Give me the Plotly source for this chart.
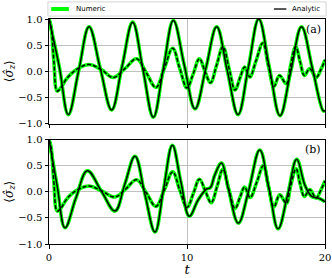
import plotly.graph_objects as go
from plotly.subplots import make_subplots

# ---- data ----
t_a_solid = [0, 0.75, 1.40, 2.15, 2.90, 3.72, 4.54, 5.30, 6.06, 6.81, 7.56, 8.28, 9.01, 9.80,
             10.58, 11.37, 12.15, 12.92, 13.70, 14.45, 15.20, 15.97, 16.74, 17.52, 18.30,
             19.09, 19.88, 20.0]
v_a_solid = [1.0, 0.08, -0.83, 0.01, 0.85, 0.05, -0.74, 0.10, 0.94, 0.03, -0.88, 0.04, 0.97, 0.12,
             -0.72, 0.06, 0.85, 0.01, -0.83, 0.08, 1.0, 0.07, -0.85, 0.0, 0.85,
             0.05, -0.76, -0.75]

t_a_dash = [0, 0.15, 0.35, 0.6, 0.9, 1.2, 1.6, 2.1, 2.9, 3.8, 4.66, 5.5, 6.35, 7.05, 7.75, 8.35,
            8.96, 9.48, 10.0, 10.45, 10.9, 11.3, 11.7, 12.15, 12.6, 13.05, 13.48, 13.85, 14.18,
            14.55, 15.0, 15.5, 15.9, 16.3, 16.7, 17.2, 17.5, 17.87, 18.2, 18.5, 18.9, 19.35,
            19.7, 20.0]
v_a_dash = [1.0, 0.85, 0.2, -0.38, -0.30, -0.17, -0.05, 0.05, 0.13, 0.03, -0.12, 0.05, 0.24, -0.03,
            -0.31, 0.05, 0.44, 0.05, -0.32, -0.05, 0.24, 0.0, -0.22, 0.12, 0.47, 0.05, -0.36,
            -0.12, 0.08, -0.11, 0.2, 0.54, 0.1, -0.29, -0.08, -0.24, 0.1, 0.47, 0.18, -0.08,
            0.05, -0.12, 0.03, 0.22]

t_b_solid = [0, 0.6, 1.16, 1.95, 2.78, 3.8, 4.78, 5.5, 6.23, 6.95, 7.68, 8.3, 8.94, 9.55, 10.17,
             10.8, 11.4, 11.7, 12.0, 12.5, 13.0, 13.72, 14.45, 15.27, 15.95, 16.6, 17.3,
             17.95, 18.55, 19.04, 19.5, 20.0]
v_b_solid = [1.0, 0.1, -0.69, -0.12, 0.40, 0.01, -0.37, 0.15, 0.68, -0.05, -0.77, 0.05, 0.89, 0.2,
             -0.47, -0.16, 0.05, 0.08, 0.31, 0.55, 0.05, -0.60, 0.0, 0.80, 0.05, -0.71, -0.05,
             0.62, 0.12, -0.09, -0.12, -0.19]

t_b_dash = [0, 0.15, 0.35, 0.6, 0.9, 1.2, 1.6, 2.1, 2.9, 3.8, 4.78, 5.55, 6.35, 7.05, 7.75, 8.35,
            8.96, 9.48, 10.0, 10.45, 10.9, 11.35, 11.75, 12.2, 12.6, 13.05, 13.48, 13.85, 14.17,
            14.57, 15.05, 15.53, 15.9, 16.3, 16.72, 17.2, 17.5, 17.9, 18.2, 18.5, 18.9, 19.35,
            19.7, 20.0]
v_b_dash = [1.0, 0.85, 0.2, -0.37, -0.30, -0.17, -0.05, 0.04, 0.11, 0.02, -0.10, 0.05, 0.23, -0.02,
            -0.28, 0.03, 0.38, 0.03, -0.30, -0.04, 0.24, 0.0, -0.21, 0.12, 0.43, 0.03, -0.32,
            -0.1, 0.09, -0.11, 0.18, 0.50, 0.1, -0.29, -0.06, -0.22, 0.1, 0.44, 0.15, -0.09,
            0.04, -0.12, 0.03, 0.21]

x_ticks = [0, 10, 20]
y_ticks = [-1.0, -0.5, 0.0, 0.5, 1.0]
legend_labels = ["Numeric", "Analytic"]
panel_labels = ["(a)", "(b)"]

GREEN = "#00ff00"
fig = make_subplots(rows=2, cols=1, vertical_spacing=16 / 225)

panels = [(1, t_a_solid, v_a_solid, t_a_dash, v_a_dash),
          (2, t_b_solid, v_b_solid, t_b_dash, v_b_dash)]
for row, ts, vs, td, vd in panels:
    for t, v in [(ts, vs), (td, vd)]:
        fig.add_trace(go.Scatter(x=t, y=v, mode="lines", showlegend=False, hoverinfo="skip",
                                 line=dict(color=GREEN, width=3.6, shape="spline", smoothing=1.1)),
                      row=row, col=1)
    fig.add_trace(go.Scatter(x=ts, y=vs, mode="lines", showlegend=False, hoverinfo="skip",
                             line=dict(color="black", width=1.5, shape="spline", smoothing=1.1)),
                  row=row, col=1)
    fig.add_trace(go.Scatter(x=td, y=vd, mode="lines", showlegend=False, hoverinfo="skip",
                             line=dict(color="black", width=1.5, dash="4px,2px",
                                       shape="spline", smoothing=1.1)),
                  row=row, col=1)

serif = "DejaVu Serif"
for row in (1, 2):
    fig.update_xaxes(range=[0, 20], tickvals=x_ticks, showticklabels=(row == 2),
                     ticks="outside", ticklen=3.5, tickcolor="black", automargin=False,
                     showline=True, linecolor="black", linewidth=1, mirror=True,
                     showgrid=True, gridcolor="#b0b0b0", gridwidth=0.8, zeroline=False,
                     tickfont=dict(family=serif, size=10, color="black"),
                     row=row, col=1)
    fig.update_yaxes(range=[-1, 1], tickvals=y_ticks, tickformat=".1f",
                     ticks="outside", ticklen=3.5, tickcolor="black", automargin=False,
                     showline=True, linecolor="black", linewidth=1, mirror=True,
                     showgrid=True, gridcolor="#b0b0b0", gridwidth=0.8, zeroline=False,
                     tickfont=dict(family=serif, size=10, color="black"),
                     title=dict(text="⟨<i>σ̂</i><sub><i>z</i></sub>⟩", standoff=2,
                                font=dict(family=serif, size=12, color="black")),
                     row=row, col=1)
fig.update_xaxes(title=dict(text="<i>t</i>", standoff=0,
                            font=dict(family=serif, size=13, color="black")), row=2, col=1)

for i, lab in enumerate(panel_labels):
    fig.add_annotation(text=lab, xref=f"x{'' if i == 0 else 2} domain",
                       yref=f"y{'' if i == 0 else 2} domain", x=0.992, y=0.9,
                       xanchor="right", yanchor="middle", showarrow=False,
                       font=dict(family=serif, size=11, color="black"))

# legend drawn as a box across the top
fig.add_shape(type="rect", xref="paper", yref="paper", x0=-0.004, x1=1.004, y0=1.013, y1=1.076,
              line=dict(color="#cccccc", width=0.8), fillcolor="white", layer="above")
fig.add_shape(type="line", xref="paper", yref="paper", x0=0.008, x1=0.072, y0=1.0444, y1=1.0444,
              line=dict(color=GREEN, width=4))
fig.add_shape(type="line", xref="paper", yref="paper", x0=0.815, x1=0.86, y0=1.0444, y1=1.0444,
              line=dict(color="black", width=1.3))
fig.add_annotation(text=legend_labels[0], xref="paper", yref="paper", x=0.09, y=1.0444,
                   xanchor="left", yanchor="middle", showarrow=False,
                   font=dict(family="DejaVu Sans", size=7, color="black"))
fig.add_annotation(text=legend_labels[1], xref="paper", yref="paper", x=0.99, y=1.0444,
                   xanchor="right", yanchor="middle", showarrow=False,
                   font=dict(family="DejaVu Sans", size=7, color="black"))

fig.update_layout(width=332, height=278, margin=dict(l=49, r=7, t=19, b=34),
                  plot_bgcolor="white", paper_bgcolor="white", showlegend=False,
                  hovermode=False)
fig.write_html("out.html", config={"displayModeBar": False, "staticPlot": True},
               post_script="document.body.style.margin='0';document.body.style.overflow='hidden';")
